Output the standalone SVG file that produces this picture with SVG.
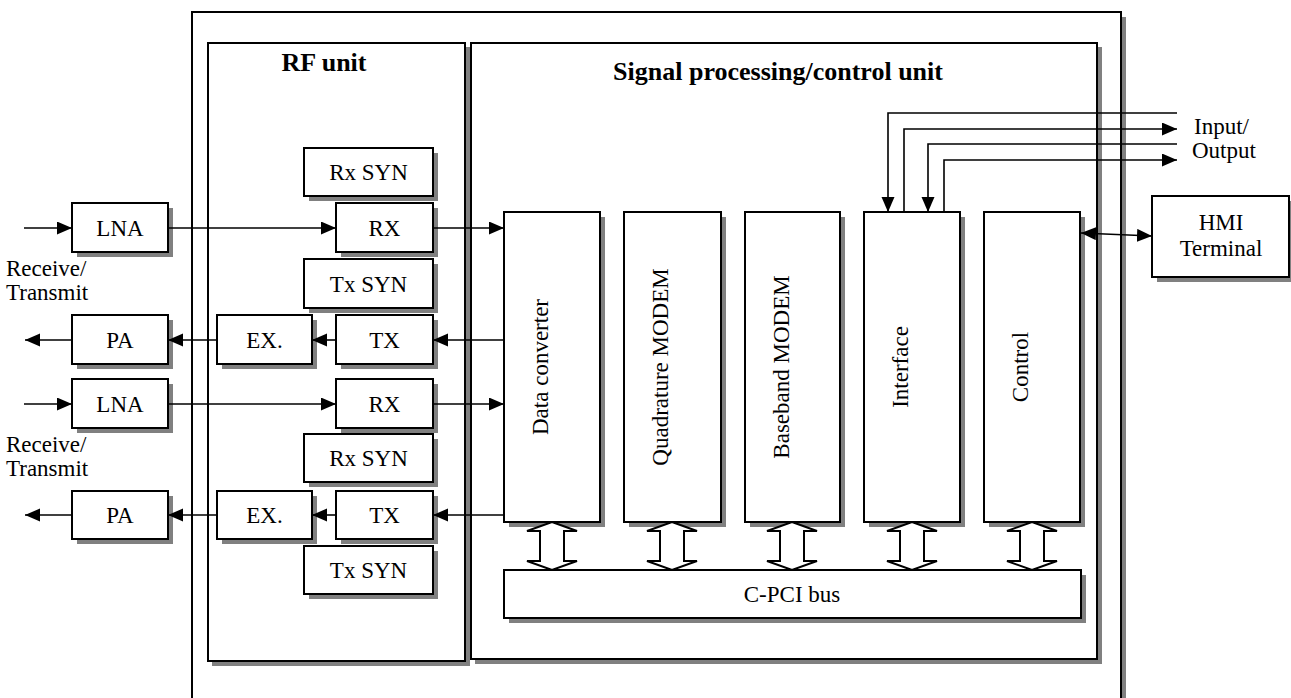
<svg xmlns="http://www.w3.org/2000/svg" width="1291" height="698" viewBox="0 0 1291 698">
<style>
.box{fill:#ffffff;stroke:#000000;stroke-width:2}
.sh{fill:#808080;stroke:none}
.ln{fill:none;stroke:#000000;stroke-width:1.6}
.dbl{fill:#ffffff;stroke:#000000;stroke-width:2;stroke-linejoin:miter}
text{font-family:"Liberation Serif","Times New Roman",serif;font-size:23px;fill:#000000}
.c{text-anchor:middle}
.t{font-weight:bold;font-size:26px}
</style>
<defs>
<marker id="ah" markerUnits="userSpaceOnUse" markerWidth="16" markerHeight="14" refX="15" refY="6.5" orient="auto">
<path d="M0,0 L15,6.5 L0,13 Z" fill="#000000"/>
</marker>
<marker id="ahs" markerUnits="userSpaceOnUse" markerWidth="16" markerHeight="14" refX="15" refY="6.5" orient="auto-start-reverse">
<path d="M0,0 L15,6.5 L0,13 Z" fill="#000000"/>
</marker>
</defs>
<rect x="0" y="0" width="1291" height="698" fill="#ffffff"/>

<g id="outer">
<rect class="sh" x="197" y="17" width="929" height="720"/>
<rect class="box" x="192" y="12" width="929" height="720"/>
</g>

<g id="rf-unit">
<rect class="sh" x="212" y="47" width="258" height="619"/>
<rect class="box" x="208" y="43" width="257" height="618"/>
<text class="t c" x="324" y="71">RF unit</text>
</g>

<g id="sp-unit">
<rect class="sh" x="475" y="47" width="627" height="617"/>
<rect class="box" x="471" y="43" width="626" height="616"/>
<text class="t c" x="778" y="80">Signal processing/control unit</text>
</g>

<g id="rxsyn1"><rect class="sh" x="309" y="153" width="129" height="48"/><rect class="box" x="304" y="148" width="129" height="48"/><text class="c" x="368.5" y="180">Rx SYN</text></g>
<g id="rx1"><rect class="sh" x="341" y="208" width="97" height="49"/><rect class="box" x="336" y="203" width="97" height="49"/><text class="c" x="384.5" y="236">RX</text></g>
<g id="txsyn1"><rect class="sh" x="309" y="264" width="129" height="49"/><rect class="box" x="304" y="259" width="129" height="49"/><text class="c" x="368.5" y="292">Tx SYN</text></g>
<g id="tx1"><rect class="sh" x="341" y="320" width="97" height="49"/><rect class="box" x="336" y="315" width="97" height="49"/><text class="c" x="384.5" y="348">TX</text></g>
<g id="ex1"><rect class="sh" x="222" y="320" width="95" height="49"/><rect class="box" x="217" y="315" width="95" height="49"/><text class="c" x="264.5" y="348">EX.</text></g>
<g id="rx2"><rect class="sh" x="341" y="384" width="97" height="49"/><rect class="box" x="336" y="379" width="97" height="49"/><text class="c" x="384.5" y="412">RX</text></g>
<g id="rxsyn2"><rect class="sh" x="309" y="439" width="129" height="48"/><rect class="box" x="304" y="434" width="129" height="48"/><text class="c" x="368.5" y="466">Rx SYN</text></g>
<g id="tx2"><rect class="sh" x="341" y="496" width="97" height="48"/><rect class="box" x="336" y="491" width="97" height="48"/><text class="c" x="384.5" y="523">TX</text></g>
<g id="ex2"><rect class="sh" x="222" y="496" width="95" height="48"/><rect class="box" x="217" y="491" width="95" height="48"/><text class="c" x="264.5" y="523">EX.</text></g>
<g id="txsyn2"><rect class="sh" x="309" y="551" width="129" height="48"/><rect class="box" x="304" y="546" width="129" height="48"/><text class="c" x="368.5" y="578">Tx SYN</text></g>

<g id="lna1"><rect class="sh" x="77" y="208" width="96" height="49"/><rect class="box" x="72" y="203" width="96" height="49"/><text class="c" x="120" y="236">LNA</text></g>
<g id="pa1"><rect class="sh" x="77" y="320" width="96" height="49"/><rect class="box" x="72" y="315" width="96" height="49"/><text class="c" x="120" y="348">PA</text></g>
<g id="lna2"><rect class="sh" x="77" y="384" width="96" height="49"/><rect class="box" x="72" y="379" width="96" height="49"/><text class="c" x="120" y="412">LNA</text></g>
<g id="pa2"><rect class="sh" x="77" y="496" width="96" height="48"/><rect class="box" x="72" y="491" width="96" height="48"/><text class="c" x="120" y="523">PA</text></g>

<g id="rt-label1"><text x="6" y="276">Receive/</text><text x="6" y="300">Transmit</text></g>
<g id="rt-label2"><text x="6" y="452">Receive/</text><text x="6" y="476">Transmit</text></g>

<g id="data-converter"><rect class="sh" x="509" y="217" width="96" height="310"/><rect class="box" x="504" y="212" width="96" height="310"/><text class="c" transform="translate(548,367) rotate(-90)">Data converter</text></g>
<g id="quadrature-modem"><rect class="sh" x="629" y="217" width="97" height="310"/><rect class="box" x="624" y="212" width="97" height="310"/><text class="c" transform="translate(668,367) rotate(-90)">Quadrature MODEM</text></g>
<g id="baseband-modem"><rect class="sh" x="750" y="217" width="95" height="310"/><rect class="box" x="745" y="212" width="95" height="310"/><text class="c" transform="translate(789,367) rotate(-90)">Baseband MODEM</text></g>
<g id="interface"><rect class="sh" x="869" y="217" width="96" height="310"/><rect class="box" x="864" y="212" width="96" height="310"/><text class="c" transform="translate(908,367) rotate(-90)">Interface</text></g>
<g id="control"><rect class="sh" x="989" y="217" width="96" height="310"/><rect class="box" x="984" y="212" width="96" height="310"/><text class="c" transform="translate(1028,367) rotate(-90)">Control</text></g>

<g id="cpci-bus"><rect class="sh" x="509" y="575" width="577" height="48"/><rect class="box" x="504" y="570" width="577" height="48"/><text class="c" x="792" y="602">C-PCI bus</text></g>

<g id="hmi"><rect class="sh" x="1157" y="201" width="134" height="81"/><rect class="box" x="1152" y="196" width="137" height="81"/><text class="c" x="1221" y="230">HMI</text><text class="c" x="1221" y="256">Terminal</text></g>

<g id="io-label"><text x="1194" y="134">Input/</text><text x="1192" y="158">Output</text></g>

<g id="connectors">
<line class="ln" x1="24" y1="228" x2="72" y2="228" marker-end="url(#ah)"/>
<line class="ln" x1="168" y1="228" x2="336" y2="228" marker-end="url(#ah)"/>
<line class="ln" x1="433" y1="228" x2="504" y2="228" marker-end="url(#ah)"/>
<line class="ln" x1="504" y1="340" x2="433" y2="340" marker-end="url(#ah)"/>
<line class="ln" x1="336" y1="340" x2="312" y2="340" marker-end="url(#ah)"/>
<line class="ln" x1="217" y1="340" x2="168" y2="340" marker-end="url(#ah)"/>
<line class="ln" x1="72" y1="340" x2="25" y2="340" marker-end="url(#ah)"/>

<line class="ln" x1="24" y1="404" x2="72" y2="404" marker-end="url(#ah)"/>
<line class="ln" x1="168" y1="404" x2="336" y2="404" marker-end="url(#ah)"/>
<line class="ln" x1="433" y1="404" x2="504" y2="404" marker-end="url(#ah)"/>
<line class="ln" x1="504" y1="515" x2="433" y2="515" marker-end="url(#ah)"/>
<line class="ln" x1="336" y1="515" x2="312" y2="515" marker-end="url(#ah)"/>
<line class="ln" x1="217" y1="515" x2="168" y2="515" marker-end="url(#ah)"/>
<line class="ln" x1="72" y1="515" x2="25" y2="515" marker-end="url(#ah)"/>

<polyline class="ln" points="1177,113 888,113 888,212" marker-end="url(#ah)"/>
<polyline class="ln" points="904,212 904,129 1177,129" marker-end="url(#ah)"/>
<polyline class="ln" points="1177,144 928,144 928,212" marker-end="url(#ah)"/>
<polyline class="ln" points="944,212 944,160 1177,160" marker-end="url(#ah)"/>

<line class="ln" x1="1081" y1="233" x2="1152" y2="236" marker-start="url(#ahs)" marker-end="url(#ahs)"/>

<path class="dbl" d="M552,522 L577,531 L564,531 L564,561 L577,561 L552,570 L527,561 L540,561 L540,531 L527,531 Z"/>
<path class="dbl" d="M672,522 L697,531 L684,531 L684,561 L697,561 L672,570 L647,561 L660,561 L660,531 L647,531 Z"/>
<path class="dbl" d="M792,522 L817,531 L804,531 L804,561 L817,561 L792,570 L767,561 L780,561 L780,531 L767,531 Z"/>
<path class="dbl" d="M912,522 L937,531 L924,531 L924,561 L937,561 L912,570 L887,561 L900,561 L900,531 L887,531 Z"/>
<path class="dbl" d="M1032,522 L1057,531 L1044,531 L1044,561 L1057,561 L1032,570 L1007,561 L1020,561 L1020,531 L1007,531 Z"/>
</g>
</svg>
